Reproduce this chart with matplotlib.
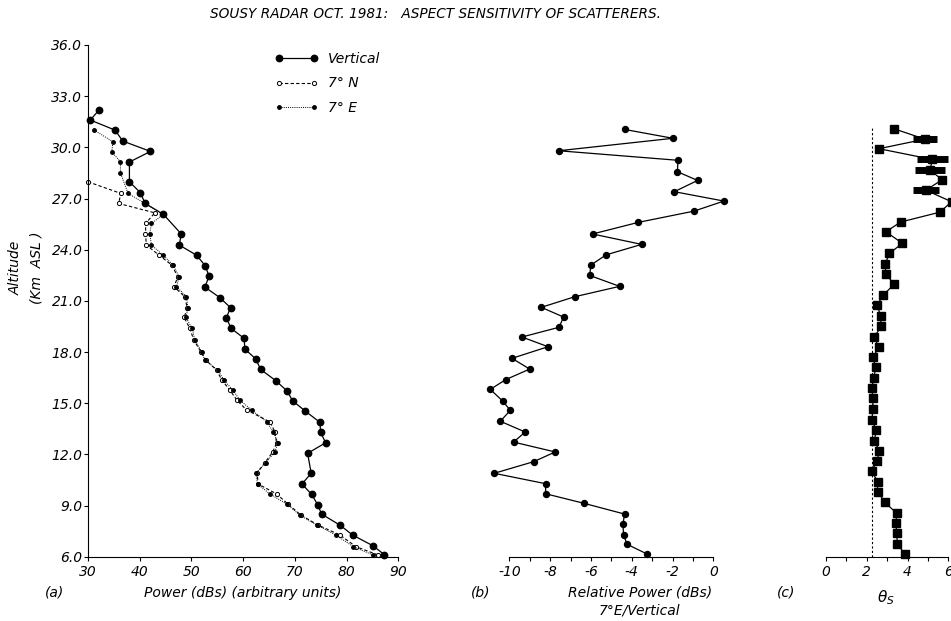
import matplotlib
matplotlib.use('Agg')
import matplotlib.pyplot as plt
from matplotlib.ticker import MultipleLocator, FormatStrFormatter

plt.rcParams['font.family'] = ['DejaVu Sans']
plt.rcParams['font.style'] = 'italic'
plt.rcParams['axes.unicode_minus'] = False

# panel (a): power profiles, altitude in km, power in dB
alt_vert = [32.17, 31.6, 31.01, 30.37, 29.76, 29.14, 27.98, 27.34, 26.71, 26.07,
            24.92, 24.27, 23.68, 23.07, 22.44, 21.81, 21.19, 20.6, 20.01, 19.39,
            18.8, 18.17, 17.59, 16.98, 16.33, 15.71, 15.14, 14.54, 13.88, 13.29,
            12.68, 12.06, 10.89, 10.26, 9.66, 9.05, 8.5, 7.84, 7.27, 6.63, 6.12]
pow_vert = [32.07, 30.46, 35.23, 36.72, 42.08, 38.01, 38.01, 40.14, 41.03, 44.59,
            48.04, 47.65, 50.98, 52.64, 53.42, 52.59, 55.49, 57.56, 56.75, 57.66,
            60.19, 60.33, 62.46, 63.37, 66.27, 68.51, 69.56, 72.0, 74.84, 74.98,
            75.95, 72.46, 73.16, 71.36, 73.24, 74.4, 75.17, 78.77, 81.17, 85.16, 87.29]

alt_e = [31.01, 30.33, 29.74, 29.15, 28.51, 27.3, 26.71, 26.07, 25.54, 24.92,
         24.27, 23.68, 23.1, 22.41, 21.83, 21.24, 20.56, 20.03, 19.39, 18.7,
         18.02, 17.53, 16.94, 16.36, 15.77, 15.18, 14.6, 13.91, 13.33, 12.68,
         12.15, 11.51, 10.91, 10.26, 9.68, 9.09, 8.44, 7.86, 7.27, 6.59, 6.1]
pow_e = [31.16, 34.84, 34.59, 36.27, 36.27, 37.74, 41.03, 44.59, 42.27, 41.94,
         42.27, 44.52, 46.45, 47.61, 47.11, 49.04, 49.35, 48.91, 50.17, 50.65,
         51.95, 52.59, 55.1, 56.26, 58.0, 59.36, 61.62, 64.53, 65.8, 66.77,
         66.13, 64.39, 62.46, 62.79, 65.17, 68.4, 70.97, 74.2, 77.94, 81.29, 85.1]

alt_n = [27.98, 27.3, 26.71, 26.16, 25.54, 24.92, 24.27, 23.68, 23.1, 22.41,
         21.83, 21.24, 20.56, 20.03, 19.39, 18.7, 18.02, 17.53, 16.94, 16.36,
         15.77, 15.18, 14.6, 13.91, 13.33, 12.68, 12.15, 11.51, 10.91, 10.26,
         9.68, 9.09, 8.44, 7.86, 7.27, 6.59, 6.1]
pow_n = [30.0, 36.33, 35.94, 42.91, 41.17, 41.11, 41.3, 43.74, 46.2, 47.36,
         46.64, 48.71, 49.2, 48.58, 49.68, 50.46, 51.81, 52.78, 54.85, 55.88,
         57.42, 58.78, 60.66, 65.17, 66.13, 66.46, 65.75, 64.2, 62.71, 62.9,
         66.46, 68.65, 71.16, 74.46, 78.71, 81.81, 86.1]

# panel (b): 7 deg E relative to vertical
alt_b = [31.05, 30.53, 29.8, 29.24, 28.57, 28.06, 27.4, 26.85, 26.26, 25.6,
         24.92, 24.31, 23.7, 23.1, 22.49, 21.85, 21.24, 20.62, 20.05, 19.45,
         18.88, 18.31, 17.63, 17.0, 16.38, 15.81, 15.13, 14.58, 13.94, 13.31,
         12.72, 12.14, 11.57, 10.89, 10.28, 9.69, 9.13, 8.5, 7.9, 7.29, 6.73, 6.16]
rel_b = [-4.35, -1.98, -7.58, -1.73, -1.76, -0.77, -1.91, 0.52, -0.95, -3.68,
         -5.92, -3.51, -5.25, -6.0, -6.06, -4.59, -6.8, -8.43, -7.34, -7.56,
         -9.38, -8.1, -9.87, -9.0, -10.18, -10.93, -10.33, -9.95, -10.44, -9.22,
         -9.79, -7.75, -8.81, -10.74, -8.22, -8.22, -6.34, -4.35, -4.43, -4.4,
         -4.23, -3.25]

# panel (c): theta_s
alt_c = [31.09, 30.48, 29.92, 29.29, 28.67, 28.1, 27.49, 26.81, 26.2, 25.62,
         25.05, 24.37, 23.78, 23.16, 22.57, 21.98, 21.34, 20.75, 20.11, 19.52,
         18.86, 18.27, 17.69, 17.1, 16.49, 15.87, 15.28, 14.64, 14.01, 13.43,
         12.8, 12.2, 11.61, 11.04, 10.4, 9.81, 9.19, 8.54, 7.96, 7.37, 6.74, 6.16]
theta_c = [3.33, 4.85, 2.6, 5.22, 5.1, 5.7, 4.9, 6.16, 5.59, 3.66,
           2.94, 3.75, 3.1, 2.91, 2.93, 3.35, 2.81, 2.51, 2.68, 2.7,
           2.37, 2.6, 2.29, 2.45, 2.34, 2.25, 2.3, 2.3, 2.25, 2.47,
           2.37, 2.61, 2.51, 2.24, 2.53, 2.53, 2.89, 3.47, 3.43, 3.47, 3.5, 3.87]
alt_blk = [30.48, 29.29, 28.67, 27.49]
theta_blk = [4.85, 5.22, 5.1, 4.9]
halfw_blk = [0.59, 0.76, 0.74, 0.64]
theta_ref = 2.24
alt_ref_top = 31.2

W, H = 951, 621
fig = plt.figure(figsize=(W / 100, H / 100), dpi=100)

def box(x0, x1, y0=45, y1=556.7):
    return [x0 / W, 1 - y1 / H, (x1 - x0) / W, (y1 - y0) / H]

ax_a = fig.add_axes(box(88, 398.3))
ax_b = fig.add_axes(box(509.3, 713.3))
ax_c = fig.add_axes(box(826, 948.3))

for ax in (ax_a, ax_b, ax_c):
    ax.set_ylim(6, 36)
    ax.spines['top'].set_visible(False)
    ax.spines['right'].set_visible(False)
    ax.tick_params(direction='out', length=3, width=0.8, labelsize=10, pad=3)

# (a)
ax_a.plot(pow_vert, alt_vert, '-', color='black', lw=0.9, marker='o', ms=4.6,
          label='Vertical', clip_on=False)
ax_a.plot(pow_n, alt_n, color='black', lw=0.8, ls=(0, (3, 2)), marker='o', ms=3,
          mfc='white', mec='black', mew=0.7, label='7° N', clip_on=False)
ax_a.plot(pow_e, alt_e, color='black', lw=0.7, ls=(0, (1, 1.2)), marker='o', ms=2.5,
          label='7° E', clip_on=False)
ax_a.set_xlim(30, 90)
ax_a.xaxis.set_major_locator(MultipleLocator(10))
ax_a.yaxis.set_major_locator(MultipleLocator(3))
ax_a.yaxis.set_major_formatter(FormatStrFormatter('%.1f'))
ax_a.tick_params(axis='y', pad=1)
ax_a.legend(loc='upper left', bbox_to_anchor=((275 - 88) / 310.3, (556.7 - 52) / 511.7),
            frameon=False, numpoints=2, handlelength=3.1, handletextpad=0.7,
            labelspacing=0.75, borderaxespad=0, borderpad=0,
            prop={'style': 'italic', 'size': 10})

# (b)
ax_b.plot(rel_b, alt_b, '-', color='black', lw=0.9, marker='o', ms=4.3, clip_on=False)
ax_b.set_xlim(-10, 0)
ax_b.spines['left'].set_visible(False)
ax_b.set_yticks([])
ax_b.xaxis.set_major_locator(MultipleLocator(2))
ax_b.xaxis.set_minor_locator(MultipleLocator(1))
ax_b.tick_params(axis='x', which='minor', direction='out', length=3, width=0.8)

# (c)
ax_c.plot([theta_ref, theta_ref], [6, alt_ref_top], color='black', lw=0.8, ls=(0, (2, 2)))
ax_c.plot(theta_c, alt_c, '-', color='black', lw=0.9, marker='s', ms=5.2, clip_on=False)
ax_c.errorbar(theta_blk, alt_blk, xerr=halfw_blk, fmt='none', ecolor='black',
              elinewidth=5, capsize=0, clip_on=False)
ax_c.set_xlim(0, 6)
ax_c.spines['left'].set_visible(False)
ax_c.set_yticks([])
ax_c.xaxis.set_major_locator(MultipleLocator(2))
ax_c.xaxis.set_minor_locator(MultipleLocator(1))
ax_c.tick_params(axis='x', which='minor', direction='out', length=3, width=0.8)

# texts
fig.text(435 / W, 1 - 14 / H, 'SOUSY RADAR OCT. 1981:   ASPECT SENSITIVITY OF SCATTERERS.',
         ha='center', va='center', fontsize=9.8, style='italic')
fig.text(16 / W, 1 - 268 / H, 'Altitude', rotation=90, ha='center', va='center',
         fontsize=10, style='italic')
fig.text(36 / W, 1 - 268 / H, '(Km  ASL )', rotation=90, ha='center', va='center',
         fontsize=10, style='italic')
fig.text(55 / W, 1 - 593 / H, '(a)', ha='center', va='center', fontsize=10, style='italic')
fig.text(243 / W, 1 - 593 / H, 'Power (dBs) (arbitrary units)', ha='center', va='center',
         fontsize=10, style='italic')
fig.text(481 / W, 1 - 593 / H, '(b)', ha='center', va='center', fontsize=10, style='italic')
fig.text(640 / W, 1 - 592 / H, 'Relative Power (dBs)', ha='center', va='center',
         fontsize=10, style='italic')
fig.text(640 / W, 1 - 610 / H, '7°E/Vertical', ha='center', va='center',
         fontsize=10, style='italic')
fig.text(786 / W, 1 - 593 / H, '(c)', ha='center', va='center', fontsize=10, style='italic')
fig.text(886 / W, 1 - 598 / H, r'$\theta_S$', ha='center', va='center', fontsize=11)

fig.savefig('out.png', dpi=100)
